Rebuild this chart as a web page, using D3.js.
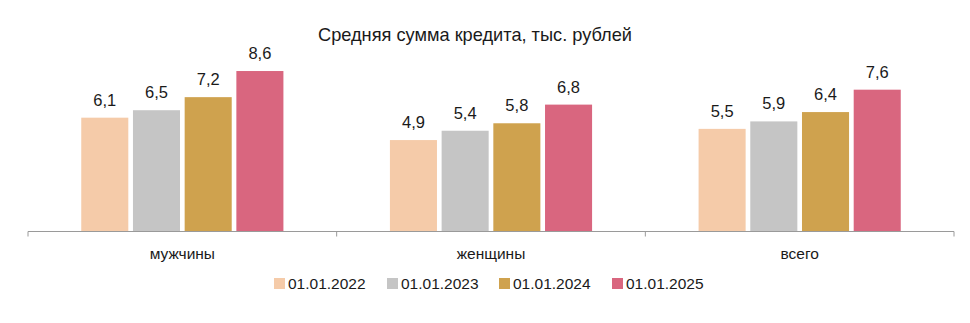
<!DOCTYPE html>
<html>
<head>
<meta charset="utf-8">
<script src="https://cdn.jsdelivr.net/npm/d3@7"></script>
<style>
  html, body { margin: 0; padding: 0; background: #fff; }
  svg { display: block; }
  text { font-family: "Liberation Sans", Arial, sans-serif; fill: #1a1a1a; }
</style>
</head>
<body>
<svg id="chart" width="970" height="323"></svg>
<script>
// Average loan amount, thousand roubles
const categories = ["мужчины", "женщины", "всего"];
const seriesNames = ["01.01.2022", "01.01.2023", "01.01.2024", "01.01.2025"];
const values2022 = [6.1, 4.9, 5.5];
const values2023 = [6.5, 5.4, 5.9];
const values2024 = [7.2, 5.8, 6.4];
const values2025 = [8.6, 6.8, 7.6];
const seriesColors = ["#F5CBA9", "#C5C5C5", "#CFA24E", "#D9667F"];
const title = "Средняя сумма кредита, тыс. рублей";

const seriesValues = [values2022, values2023, values2024, values2025];
const fmt = v => d3.format(".1f")(v).replace(".", ",");

const svg = d3.select("#chart");

const x0 = d3.scaleBand().domain(categories).range([28, 954]).padding(0);
const x1 = d3.scaleBand().domain(seriesNames).range([0, x0.bandwidth()])
  .paddingInner(0.09).paddingOuter(1.03);
const y = d3.scaleLinear().domain([0, 9]).range([231.5, 231.5 - 9 * 18.66]);

// title
svg.append("text")
  .attr("x", 475).attr("y", 41)
  .attr("text-anchor", "middle")
  .attr("font-size", 18.5)
  .attr("textLength", 314)
  .attr("lengthAdjust", "spacingAndGlyphs")
  .text(title);

// bars and value labels
const groups = svg.selectAll("g.cat")
  .data(categories)
  .join("g")
  .attr("class", "cat")
  .attr("transform", d => `translate(${x0(d)},0)`);

groups.each(function (cat, ci) {
  const g = d3.select(this);
  seriesNames.forEach((s, si) => {
    const v = seriesValues[si][ci];
    g.append("rect")
      .attr("x", x1(s))
      .attr("y", y(v))
      .attr("width", x1.bandwidth())
      .attr("height", y(0) - y(v))
      .attr("fill", seriesColors[si]);
    g.append("text")
      .attr("x", x1(s) + x1.bandwidth() / 2)
      .attr("y", y(v) - 12)
      .attr("text-anchor", "middle")
      .attr("font-size", 16.5)
      .text(fmt(v));
  });
});

// category axis
const axis = svg.append("g").attr("transform", `translate(0,${y(0)})`);
axis.append("line")
  .attr("x1", x0.range()[0]).attr("x2", x0.range()[1])
  .attr("stroke", "#9a9a9a").attr("stroke-width", 1);
const tickXs = categories.map(c => x0(c)).concat([x0.range()[1]]);
axis.selectAll("line.tick")
  .data(tickXs)
  .join("line")
  .attr("class", "tick")
  .attr("x1", d => d).attr("x2", d => d)
  .attr("y1", 0).attr("y2", 5)
  .attr("stroke", "#9a9a9a");
axis.selectAll("text")
  .data(categories)
  .join("text")
  .attr("x", d => x0(d) + x0.bandwidth() / 2)
  .attr("y", 27)
  .attr("text-anchor", "middle")
  .attr("font-size", 15.5)
  .text(d => d);

// legend
const legendX = [274, 387, 499, 612];
const legend = svg.append("g");
seriesNames.forEach((s, i) => {
  legend.append("rect")
    .attr("x", legendX[i]).attr("y", 278)
    .attr("width", 11).attr("height", 11)
    .attr("fill", seriesColors[i]);
  legend.append("text")
    .attr("x", legendX[i] + 14).attr("y", 289)
    .attr("font-size", 15.5)
    .text(s);
});
</script>
</body>
</html>
